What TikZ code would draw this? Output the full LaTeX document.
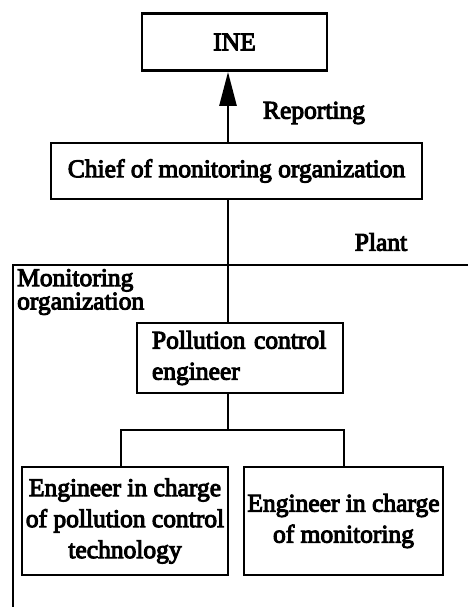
\documentclass[tikz,border=0pt]{standalone}
\usepackage{fontspec}
\setmainfont{Liberation Serif}[FakeBold=4]
\usetikzlibrary{arrows.meta}
\newcommand{\dfont}{\fontsize{25.5}{31}\selectfont}
\begin{document}
\begin{tikzpicture}[x=1pt,y=-1pt,
  box/.style={draw,line width=2.8pt,inner sep=0pt,align=center,font=\dfont},
  conn/.style={line width=2.6pt},
  lbl/.style={inner sep=0pt,font=\dfont}]
\useasboundingbox (0,0) rectangle (468,607);
\node[box,minimum width=185pt,minimum height=57pt] (ine) at (234.5,42) {INE};
\node[box,minimum width=371pt,minimum height=56pt] (chief) at (236.5,171) {Chief of monitoring organization};
\node[box,minimum height=70pt,text width=176pt,inner xsep=15pt,align=left] (poll) at (240,358) {Pollution control\\engineer};
\node[box,minimum width=206pt,minimum height=108pt] (left) at (125,521) {Engineer in charge\\of pollution control\\technology};
\node[box,minimum width=199pt,minimum height=108pt] (right) at (343.5,521) {Engineer in charge\\of monitoring};
\node[lbl] (rep) at (314,113) {Reporting};
\node[lbl] (plant) at (381,242) {Plant};
\node[anchor=north west,inner sep=0pt,align=left,font=\fontsize{25.5}{20}\selectfont] (mon) at (17,269) {Monitoring\\organization};
\coordinate (spine) at (228,0);
\coordinate (pl) at (13,265);
\coordinate (pr) at (468,265);
\coordinate (pb) at (13,607);
\coordinate (bj) at (228,430);
\coordinate (bl) at (121,430);
\coordinate (br) at (344,430);
\draw[conn,-{Triangle[length=34pt,width=17pt]}] (chief.north -| spine) -- (ine.south -| spine);
\draw[conn] (chief.south -| spine) -- (poll.north -| spine);
\draw[conn] (pr) -- (pl) -- (pb);
\draw[conn] (poll.south -| spine) -- (bj);
\draw[conn] (left.north -| bl) -- (bl) -- (br) -- (right.north -| br);
\end{tikzpicture}
\end{document}
